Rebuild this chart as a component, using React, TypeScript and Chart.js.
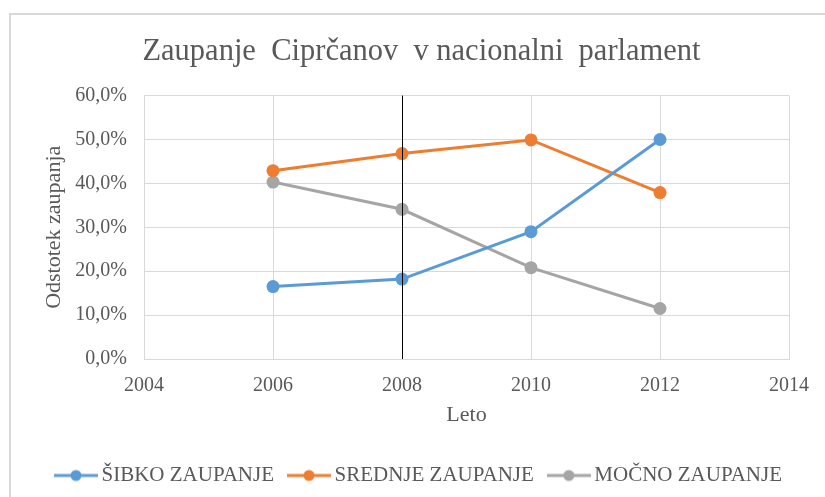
import { useEffect, useRef } from "react";
import { Chart, registerables } from "chart.js";

Chart.register(...registerables);

// ---- data ----
const years = [2006, 2008, 2010, 2012];
const sibko = [16.5, 18.2, 29.0, 50.0];
const srednje = [42.9, 46.8, 49.9, 37.9];
const mocno = [40.3, 34.1, 20.8, 11.5];
const seriesNames = ["ŠIBKO ZAUPANJE", "SREDNJE ZAUPANJE", "MOČNO ZAUPANJE"];
const seriesColors = ["#5B9BD5", "#ED7D31", "#A5A5A5"];
const markerYear = [2008];
const xRange = [2004, 2014, 2];
const yRange = [0, 60, 10];
const chartTitle = "Zaupanje  Ciprčanov  v nacionalni  parlament";
const xTitle = "Leto";
const yTitle = "Odstotek zaupanja";

const FONT = "'Liberation Serif', 'Times New Roman', serif";
const TEXT = "#595959";
const GRID = "#d9d9d9";

function makeIcon(color: string) {
  const c = document.createElement("canvas");
  c.width = 44;
  c.height = 14;
  const ctx = c.getContext("2d")!;
  ctx.strokeStyle = color;
  ctx.lineWidth = 3;
  ctx.beginPath();
  ctx.moveTo(0, 7);
  ctx.lineTo(44, 7);
  ctx.stroke();
  ctx.fillStyle = color;
  ctx.beginPath();
  ctx.arc(22, 7, 5.5, 0, Math.PI * 2);
  ctx.fill();
  return c;
}

export default function App() {
  const ref = useRef<HTMLCanvasElement | null>(null);

  useEffect(() => {
    if (!ref.current) return;
    const icons = seriesColors.map(makeIcon);
    const seriesData = [sibko, srednje, mocno];

    const vline = {
      id: "vline",
      afterDatasetsDraw(chart: any) {
        const { ctx, chartArea, scales } = chart;
        ctx.save();
        ctx.strokeStyle = "#000000";
        ctx.lineWidth = 1;
        markerYear.forEach((yr) => {
          const x = Math.round(scales.x.getPixelForValue(yr)) + 0.5;
          ctx.beginPath();
          ctx.moveTo(x, chartArea.top);
          ctx.lineTo(x, chartArea.bottom);
          ctx.stroke();
        });
        ctx.restore();
      },
    };

    const chart = new Chart(ref.current, {
      type: "line",
      data: {
        datasets: seriesData.map((vals, i) => ({
          label: seriesNames[i],
          data: years.map((y, j) => ({ x: y, y: vals[j] })),
          borderColor: seriesColors[i],
          backgroundColor: seriesColors[i],
          pointBackgroundColor: seriesColors[i],
          pointBorderColor: seriesColors[i],
          pointRadius: 6.5,
          pointBorderWidth: 0,
          borderWidth: 3,
          tension: 0,
          fill: false,
        })),
      },
      options: {
        animation: false,
        responsive: false,
        maintainAspectRatio: false,
        layout: { padding: { top: 0, left: 20, right: 2, bottom: 1 } },
        scales: {
          x: {
            type: "linear",
            min: xRange[0],
            max: xRange[1],
            ticks: {
              stepSize: xRange[2],
              color: TEXT,
              font: { family: FONT, size: 20 },
              padding: 15,
              callback: (v: any) => String(v),
            },
            grid: { color: GRID, drawTicks: false },
            border: { color: GRID },
            title: {
              display: true,
              text: xTitle,
              color: TEXT,
              font: { family: FONT, size: 22 },
              padding: { top: 0, bottom: 17 },
            },
            afterFit: (s: any) => {
              s.height = 86;
            },
          },
          y: {
            type: "linear",
            min: yRange[0],
            max: yRange[1],
            ticks: {
              stepSize: yRange[2],
              color: TEXT,
              font: { family: FONT, size: 20 },
              padding: 17,
              callback: (v: any) => Number(v).toFixed(1).replace(".", ",") + "%",
            },
            grid: { color: GRID, drawTicks: false },
            border: { color: GRID },
            title: {
              display: true,
              text: yTitle,
              color: TEXT,
              font: { family: FONT, size: 22 },
              padding: { top: 21, bottom: 0 },
            },
            afterFit: (s: any) => {
              s.width = 124;
            },
          },
          yR: {
            type: "linear",
            position: "right",
            display: true,
            ticks: { display: false },
            grid: { display: false, drawTicks: false },
            border: { display: false },
            afterFit: (s: any) => {
              s.width = 34;
            },
          },
        },
        plugins: {
          title: {
            display: true,
            text: chartTitle,
            color: TEXT,
            font: { family: FONT, size: 30.5, weight: "normal" },
            padding: { top: 34, bottom: 25 },
          },
          legend: {
            position: "bottom",
            labels: {
              usePointStyle: true,
              pointStyleWidth: 30,
              padding: 20,
              color: TEXT,
              font: { family: FONT, size: 21 },
              generateLabels: (ch: any) => {
                const items = Chart.defaults.plugins.legend.labels.generateLabels(ch);
                return items.map((it: any, i: number) => ({ ...it, pointStyle: icons[i] }));
              },
            },
          },
          tooltip: { enabled: false },
        },
      } as any,
      plugins: [vline],
    });
    return () => chart.destroy();
  }, []);

  return (
    <div
      style={{
        position: "fixed",
        left: 0,
        top: 0,
        width: 825,
        height: 497,
        background: "#ffffff",
        overflow: "hidden",
      }}
    >
      <div
        style={{
          position: "absolute",
          left: 9,
          top: 13,
          width: 900,
          height: 600,
          borderTop: "2px solid #d9d9d9",
          borderLeft: "2px solid #d9d9d9",
        }}
      />
      <canvas
        ref={ref}
        width={825}
        height={497}
        style={{ position: "absolute", left: 0, top: 0, width: 825, height: 497 }}
      />
    </div>
  );
}
